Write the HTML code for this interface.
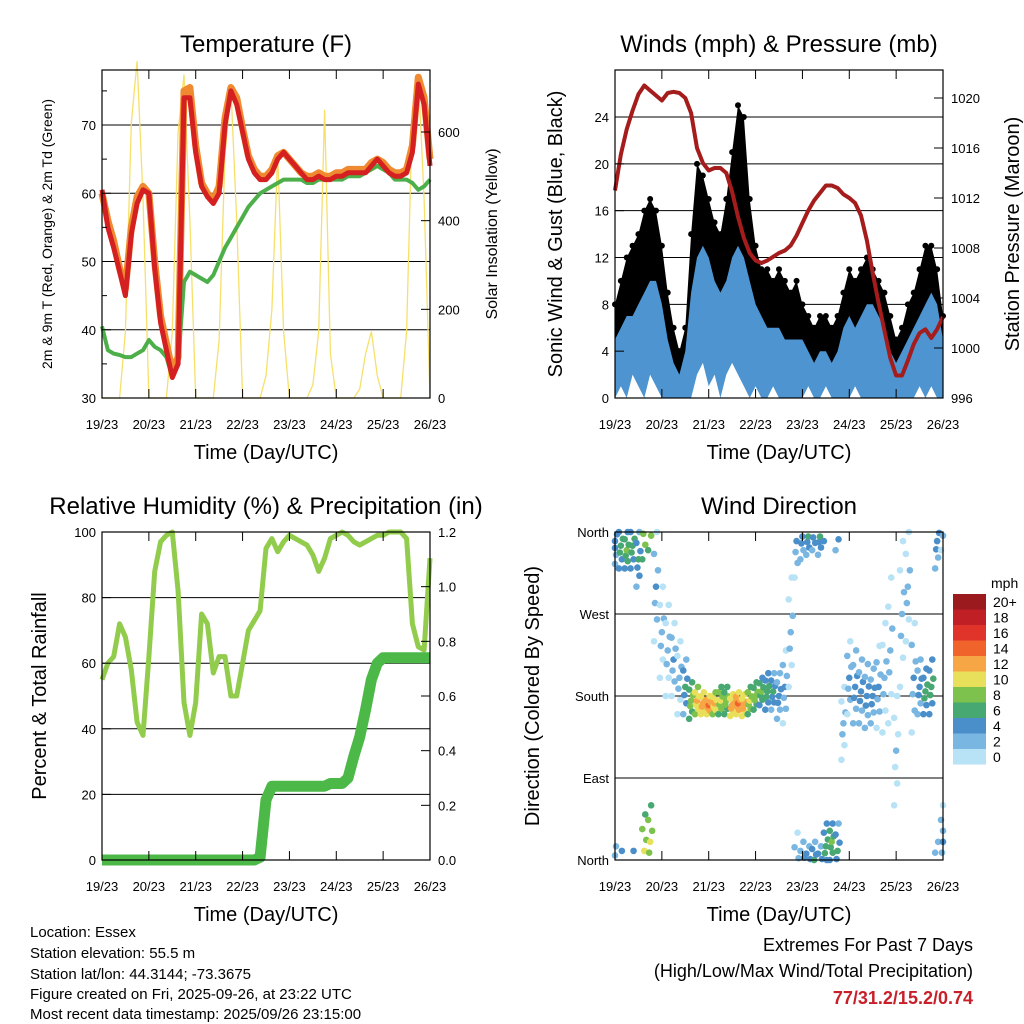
<!DOCTYPE html>
<html><head><meta charset="utf-8"><style>
body{margin:0;background:#fff;}
svg{display:block;font-family:"Liberation Sans",Arial,sans-serif;}
</style></head><body>
<svg id="s" width="1024" height="1024" viewBox="0 0 1024 1024">
<g id="g1"></g>
<g id="g2"></g>
<g id="g3"></g>
<g id="g4"></g>
<g font-size="15" fill="#000">
<text x="30" y="937">Location: Essex</text>
<text x="30" y="958">Station elevation: 55.5 m</text>
<text x="30" y="979">Station lat/lon: 44.3144; -73.3675</text>
<text x="30" y="999">Figure created on Fri, 2025-09-26, at 23:22 UTC</text>
<text x="30" y="1019">Most recent data timestamp: 2025/09/26 23:15:00</text>
</g>
<g text-anchor="end">
<text x="973" y="951" font-size="18">Extremes For Past 7 Days</text>
<text x="973" y="977" font-size="18">(High/Low/Max Wind/Total Precipitation)</text>
<text x="973" y="1004" font-size="18" font-weight="bold" fill="#c8202a">77/31.2/15.2/0.74</text>
</g>
</svg>
<script>
const dayLabels=["19/23","20/23","21/23","22/23","23/23","24/23","25/23","26/23"];
// 3-hourly series, index 0 = 19/23 UTC
const tempRed=[60.5,55,52,48.5,45,54,58.5,60.5,60,49,41,37,33,35,74,74,66,61,59.5,58.5,60,70,75,73,69,65,63,62,62,63,65,66,65,64,63,62,62,62.5,62,62,62.5,62.5,63,63,63,63,64,65,64,63,62.5,62.5,63,66,76,73,64];
const tempOrange=[60,56,53,49,46,55,59.5,61,60,50,42,38,34,36,75,75.5,67,61.5,60,59,61,71,75.5,74,69.5,65.5,63.5,62.5,62.5,63.5,65.5,66,65,64,63,62.5,62.5,63,62.5,62.5,63,63,63.5,63.5,63.5,63.5,64.5,65,64.5,63.5,63,63,63.5,67,77,74,65];
const dewGreen=[40.5,37,36.5,36.3,36,36,36.5,37,38.5,37.5,37,36,33,35,47,48.5,48,47.5,47,48,50,52,53.5,55,56.5,58,59,60,60.5,61,61.5,62,62,62,62,61.5,61.5,62,62,62,62,62,62.5,62.5,62.5,63,63.5,64,63.5,63,62,62,62,61.5,60.5,61,62];
const solar=[0,0,0,0,150,620,760,450, 0,0,0,0,150,600,730,400, 0,0,0,0,130,550,700,400, 0,0,0,0,50,200,550,150, 0,0,0,0,30,150,650,100, 0,0,0,0,20,100,150,50, 0,0,0,0,150,650,730,450, 0];
const windLo=[0,1,0,2,1,0,2,1,0,0,0,0,0,0,2,3,1,2,0,2,3,2,1,0,1,0,0,1,0,0,0,0,0,1,0,0,1,0,0,0,0,1,0,0,0,0,0,0,0,0,0,0,1,0,1,0,0];
const windHi=[5,6,7,7,8,9,10,10,8,5,3,2,4,9,12,13,12,10,9,10,12,13,12,10,8,7,6,6,6,5,5,5,5,4,3,4,4,3,4,6,7,6,7,8,8,7,6,4,3,4,5,6,7,8,9,8,5];
const gust=[8,10,12,13,14,16,17,16,13,9,6,4,6,14,20,19,17,15,14,17,21,25,24,17,13,11,11,10,11,10,9,10,8,7,6,7,7,6,7,9,11,10,11,12,11,10,9,7,5,6,8,9,11,13,13,11,7];
const pressure=[1012.6,1015.5,1017.5,1019,1020.3,1021,1020.6,1020.2,1019.8,1020.4,1020.5,1020.4,1020,1018.8,1016,1014.8,1014.2,1014.4,1014.4,1014,1012.5,1010.5,1008.8,1007.6,1007,1006.8,1007,1007.3,1007.6,1007.8,1008.2,1009,1010,1011,1011.8,1012.4,1013,1013,1012.8,1012.3,1012,1011.6,1010.6,1008.6,1006,1003.6,1001.4,999.2,997.8,997.8,999,1000.3,1001.2,1001.5,1000.8,1001.5,1002.5];
const rh=[55,60,62,72,68,58,42,38,62,88,97,99,100,82,48,38,48,75,72,57,62,62,50,50,60,70,73,76,95,98,94,97,99,98,97,96,93,88,92,98,99,100,99,97,96,97,98,99,99,100,100,100,98,72,65,64,92];
const precip=[0,0,0,0,0,0,0,0,0,0,0,0,0,0,0,0,0,0,0,0,0,0,0,0,0,0,0,0.01,0.22,0.27,0.27,0.27,0.27,0.27,0.27,0.27,0.27,0.27,0.27,0.28,0.28,0.28,0.3,0.38,0.45,0.55,0.66,0.72,0.74,0.74,0.74,0.74,0.74,0.74,0.74,0.74,0.74];
const dirCenter=[350,345,340,345,330,10,20,300,250,230,220,200,190,175,175,172,170,172,175,175,170,172,170,175,180,185,185,185,180,190,250,350,355,355,0,355,15,20,10,150,200,190,185,180,180,190,200,230,120,270,300,200,190,185,190,350,20];
const dirSpread=[25,25,20,25,30,40,40,60,50,50,40,40,30,20,15,12,10,12,15,15,12,12,12,15,15,15,20,20,25,40,60,40,25,20,20,20,25,20,30,40,40,40,35,35,30,45,60,80,60,80,60,60,30,25,30,30,40];
const dirSpeed=[4,6,7,6,5,9,9,3,2,2,3,2,5,8,11,12,13,11,9,8,12,13,12,9,8,7,6,5,4,3,2,3,4,5,5,5,6,7,5,2,3,4,4,4,4,3,2,2,1,2,2,3,4,6,6,4,3];
const speedBins=["20+","18","16","14","12","10","8","6","4","2","0"];
const binColors=["#9b1a1e","#c11f26","#e0332a","#f0632a","#f7a646","#e8e05a","#7dc24c","#48a872","#4a8fca","#7ab6e2","#b8e2f6"];

const NS="http://www.w3.org/2000/svg";
function mk(p,tag,at,txt){const e=document.createElementNS(NS,tag);for(const k in at)e.setAttribute(k,at[k]);if(txt!==undefined)e.textContent=txt;p.appendChild(e);return e;}
const N=tempRed.length-1;
function xs(x0,x1){return i=>x0+(x1-x0)*i/N;}
function ys(y0,y1,v0,v1){return v=>y0+(y1-y0)*(v-v0)/(v1-v0);}
function pathOf(arr,X,Y){return arr.map((v,i)=>(i?"L":"M")+X(i).toFixed(1)+","+Y(v).toFixed(1)).join("");}

function frame(g,x0,y0,x1,y1,title,xt){
  let t=mk(g,"text",{x:(x0+x1)/2,y:y0-18,"font-size":24,"text-anchor":"middle"},title);
  
  dayLabels.forEach((d,k)=>{const x=x0+(x1-x0)*k/7;
    let l=mk(g,"text",{x:x,y:y1+31,"font-size":13,"text-anchor":"middle"},d);
    
    mk(g,"line",{x1:x,x2:x,y1:y1,y2:y1-9,stroke:"#000","stroke-width":1});
    mk(g,"line",{x1:x,x2:x,y1:y0,y2:y0+9,stroke:"#000","stroke-width":1});
  });
  let xl=mk(g,"text",{x:(x0+x1)/2,y:y1+61,"font-size":20,"text-anchor":"middle"},xt);
  
}
function border(g,x0,y0,x1,y1){let r=mk(g,"rect",{x:x0,y:y0,width:x1-x0,height:y1-y0,fill:"none",stroke:"#000","stroke-width":1.2});}
function yAxis(g,x,Y,vals,fmt,side){
  vals.forEach(v=>{const y=Y(v);
    let l=mk(g,"text",{x:side<0?x-6:x+8,y:y+5,"font-size":13,"text-anchor":side<0?"end":"start"},fmt(v));
    
    mk(g,"line",{x1:x,x2:x-side*9,y1:y,y2:y,stroke:"#000"});
  });
}
function grid(g,x0,x1,ysArr){ysArr.forEach(y=>mk(g,"line",{x1:x0,x2:x1,y1:y,y2:y,stroke:"#000","stroke-width":1}));}
function vtitle(g,x,y,txt,fs,name){let t=mk(g,"text",{x:x,y:y,"font-size":fs,"text-anchor":"middle",transform:`rotate(-90 ${x} ${y})`},txt);}

// Panel 1: temperature
(function(){const g=document.getElementById("g1");const x0=102,x1=430,y0=70,y1=398;
 const X=xs(x0,x1),Y=ys(398,125,30,70),YS=ys(398,132,0,600);
 grid(g,x0,x1,[40,50,60,70].map(Y));
 let p=mk(g,"path",{d:pathOf(solar,X,YS),fill:"none",stroke:"#f6e06a","stroke-width":1.3});
 p=mk(g,"path",{d:pathOf(tempOrange,X,Y),fill:"none",stroke:"#f08a30","stroke-width":7,"stroke-linejoin":"round"});
 p=mk(g,"path",{d:pathOf(dewGreen,X,Y),fill:"none",stroke:"#4caf4a","stroke-width":4,"stroke-linejoin":"round"});
 p=mk(g,"path",{d:pathOf(tempRed,X,Y),fill:"none",stroke:"#d42020","stroke-width":5,"stroke-linejoin":"round"});
 border(g,x0,y0,x1,y1);
 yAxis(g,x0,Y,[30,40,50,60,70],v=>v,-1);
 yAxis(g,x1,YS,[0,200,400,600],v=>v,1);
 [35,45,55,65,75].forEach(v=>mk(g,"line",{x1:x0,x2:x0+5,y1:Y(v),y2:Y(v),stroke:"#000"}));
 frame(g,x0,y0,x1,y1,"Temperature (F)","Time (Day/UTC)");
 vtitle(g,52,234,"2m & 9m T (Red, Orange) & 2m Td (Green)",14,"y-axis-title-left");
 vtitle(g,497,234,"Solar Insolation (Yellow)",16,"y-axis-title-right");
})();

// Panel 2: winds & pressure
(function(){const g=document.getElementById("g2");const x0=615,x1=943,y0=70,y1=398;
 const X=xs(x0,x1),Y=ys(398,117,0,24),YP=ys(398,98,996,1020);
 grid(g,x0,x1,[4,8,12,16,20,24].map(Y));
 let top=gust.map((v,i)=>X(i).toFixed(1)+","+Y(v).toFixed(1)),bot=windHi.map((v,i)=>X(i).toFixed(1)+","+Y(Math.max(0,v-2)).toFixed(1)).reverse();
 let p=mk(g,"polygon",{points:top.concat(bot).join(" "),fill:"#000"});
 gust.forEach((v,i)=>{let c=mk(g,"circle",{cx:X(i),cy:Y(v),r:3,fill:"#000"});});
 top=windHi.map((v,i)=>X(i).toFixed(1)+","+Y(v).toFixed(1));bot=windLo.map((v,i)=>X(i).toFixed(1)+","+Y(v).toFixed(1)).reverse();
 p=mk(g,"polygon",{points:top.concat(bot).join(" "),fill:"#4d94d0"});
 p=mk(g,"path",{d:pathOf(pressure,X,YP),fill:"none",stroke:"#a51c1c","stroke-width":4,"stroke-linejoin":"round"});
 border(g,x0,y0,x1,y1);
 yAxis(g,x0,Y,[0,4,8,12,16,20,24],v=>v,-1);
 yAxis(g,x1,YP,[996,1000,1004,1008,1012,1016,1020],v=>v,1);
 frame(g,x0,y0,x1,y1,"Winds (mph) & Pressure (mb)","Time (Day/UTC)");
 vtitle(g,562,234,"Sonic Wind & Gust (Blue, Black)",20,"y-axis-title-left");
 vtitle(g,1019,234,"Station Pressure (Maroon)",20,"y-axis-title-right");
})();

// Panel 3: RH & precip
(function(){const g=document.getElementById("g3");const x0=102,x1=430,y0=532,y1=860;
 const X=xs(x0,x1),Y=ys(860,532,0,100),YR=ys(860,532,0,1.2);
 grid(g,x0,x1,[20,40,60,80].map(Y));
 let p=mk(g,"path",{d:pathOf(rh,X,Y),fill:"none",stroke:"#92cc4c","stroke-width":5,"stroke-linejoin":"round"});
 p=mk(g,"path",{d:pathOf(precip,X,YR),fill:"none",stroke:"#4cb848","stroke-width":11,"stroke-linejoin":"round"});
 border(g,x0,y0,x1,y1);
 yAxis(g,x0,Y,[0,20,40,60,80,100],v=>v,-1);
 yAxis(g,x1,YR,[0,0.2,0.4,0.6,0.8,1.0,1.2],v=>v.toFixed(1),1);
 frame(g,x0,y0,x1,y1,"Relative Humidity (%) & Precipitation (in)","Time (Day/UTC)");
 vtitle(g,46,696,"Percent & Total Rainfall",20,"y-axis-title-left");
})();

// Panel 4: wind direction
(function(){const g=document.getElementById("g4");const x0=615,x1=943,y0=532,y1=860;
 const X=xs(x0,x1),Y=ys(860,532,0,360);
 grid(g,x0,x1,[90,180,270].map(Y));
 const offs=[-1,-0.6,-0.3,0,0.3,0.6,1],dx=[-2,1,-1,0,2,-2,1],ds=[-2,-1,0,1,0,-1,-2];
 dirCenter.forEach((c,i)=>{offs.forEach((o,k)=>{let d=c+o*dirSpread[i];if(d<0)d+=360;if(d>360)d-=360;
   let s=Math.max(0,Math.min(20,dirSpeed[i]+ds[k]));let bi=10-Math.min(10,Math.floor(s/2));
   let e=mk(g,"circle",{cx:Math.min(x1,Math.max(x0,X(i)+dx[k])),cy:Y(d),r:3.3,fill:binColors[bi]});
   });});
 border(g,x0,y0,x1,y1);
 ["North","East","South","West","North"].forEach((n,k)=>{const y=Y(k*90);
   let l=mk(g,"text",{x:x0-6,y:y+5,"font-size":13,"text-anchor":"end"},n);});
 frame(g,x0,y0,x1,y1,"Wind Direction","Time (Day/UTC)");
 vtitle(g,539,696,"Direction (Colored By Speed)",20,"y-axis-title-left");
 let lt=mk(g,"text",{x:991,y:588,"font-size":14},"mph");
 speedBins.forEach((b,k)=>{const y=594+k*15.5;
   let r=mk(g,"rect",{x:953,y:y,width:33,height:15.5,fill:binColors[k]});
   let t=mk(g,"text",{x:993,y:y+13,"font-size":14},b);});
})();
</script>
</body></html>
